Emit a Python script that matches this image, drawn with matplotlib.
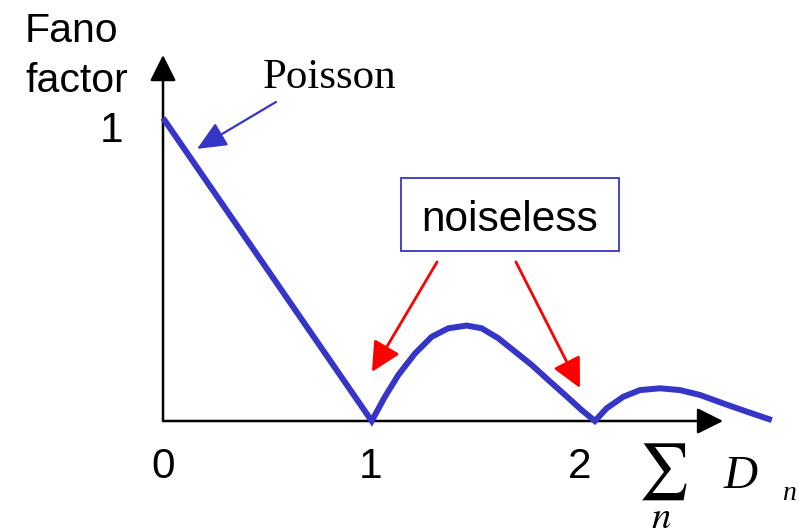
import matplotlib
matplotlib.use("Agg")
import matplotlib.pyplot as plt
from matplotlib.patches import Rectangle

# curve (x in units of sum D_n, y = Fano factor)
curve_x = [0.0, 0.964, 1.025, 1.087, 1.164, 1.241, 1.318, 1.403, 1.472,
           1.549, 1.626, 1.703, 1.780, 1.857, 1.934, 1.995, 2.049, 2.126,
           2.203, 2.296, 2.388, 2.480, 2.588, 2.696, 2.812]
curve_y = [1.0, 0.0, 0.080, 0.152, 0.223, 0.278, 0.306, 0.315, 0.306,
           0.273, 0.229, 0.185, 0.135, 0.086, 0.036, 0.0, 0.042, 0.080,
           0.102, 0.108, 0.102, 0.086, 0.058, 0.031, 0.003]

x_ticks = [0, 0.961, 1.926]
x_tick_labels = ["0", "1", "2"]

blue = "#3535c8"
red = "#ff0000"

fig = plt.figure(figsize=(7.99, 5.32), dpi=100)
ax = fig.add_axes([0, 0, 1, 1])
ax.set_xlim(-0.7529, 2.9376)
ax.set_ylim(-0.3663, 1.3894)
ax.axis("off")

# axes with arrow heads
axis_arrow = dict(arrowstyle="-|>,head_length=0.8,head_width=0.4",
                  mutation_scale=20, color="black", lw=1.8,
                  shrinkA=0, shrinkB=0)
ax.annotate("", xy=(0, 1.208), xytext=(0, 0), arrowprops=axis_arrow)
ax.annotate("", xy=(2.587, 0), xytext=(0, 0), arrowprops=axis_arrow)

ax.plot(curve_x, curve_y, color=blue, lw=4.3, solid_joinstyle="miter",
        solid_capstyle="butt", zorder=3)

sans = "Liberation Sans"
serif = "Liberation Serif"

for xt, lab in zip(x_ticks, x_tick_labels):
    ax.text(xt, -0.188, lab, fontsize=30.5, family=sans, ha="center",
            va="baseline")
ax.text(-0.185, 0.921, "1", fontsize=30.5, family=sans, ha="right",
        va="baseline")
ax.text(-0.637, 1.251, "Fano", fontsize=29.5, family=sans, ha="left",
        va="baseline")
ax.text(-0.637, 1.086, "factor", fontsize=29.5, family=sans, ha="left",
        va="baseline")

# sum D_n label (sum with n set below it)
ax.text(2.31, -0.363, r"$\sum_{n}$", fontsize=40, math_fontfamily="stix",
        ha="center", va="bottom")
ax.text(2.587, -0.221, "D", fontsize=34, family=serif, style="italic",
        ha="left", va="baseline")
ax.text(2.859, -0.261, "n", fontsize=20, family=serif, style="italic",
        ha="left", va="baseline")

# Poisson annotation
ax.text(0.462, 1.099, "Poisson", fontsize=31, family=serif, ha="left",
        va="baseline")
ax.annotate("", xy=(0.157, 0.898), xytext=(0.522, 1.053),
            arrowprops=dict(arrowstyle="-|>,head_length=0.9,head_width=0.4",
                            mutation_scale=20, color=blue, lw=1.6,
                            shrinkA=0, shrinkB=0))

# noiseless box and arrows
ax.add_patch(Rectangle((1.099, 0.561), 1.007, 0.241, fill=False,
                       edgecolor=blue, lw=1.3))
ax.text(1.601, 0.627, "noiseless", fontsize=30.5, family=sans, ha="center",
        va="baseline")
red_arrow = dict(arrowstyle="-|>,head_length=0.9,head_width=0.45",
                 mutation_scale=20, color=red, lw=2.0, shrinkA=0, shrinkB=0)
ax.annotate("", xy=(0.965, 0.162), xytext=(1.266, 0.525), arrowprops=red_arrow)
ax.annotate("", xy=(1.926, 0.109), xytext=(1.630, 0.525), arrowprops=red_arrow)

fig.savefig("out.png", dpi=100)
